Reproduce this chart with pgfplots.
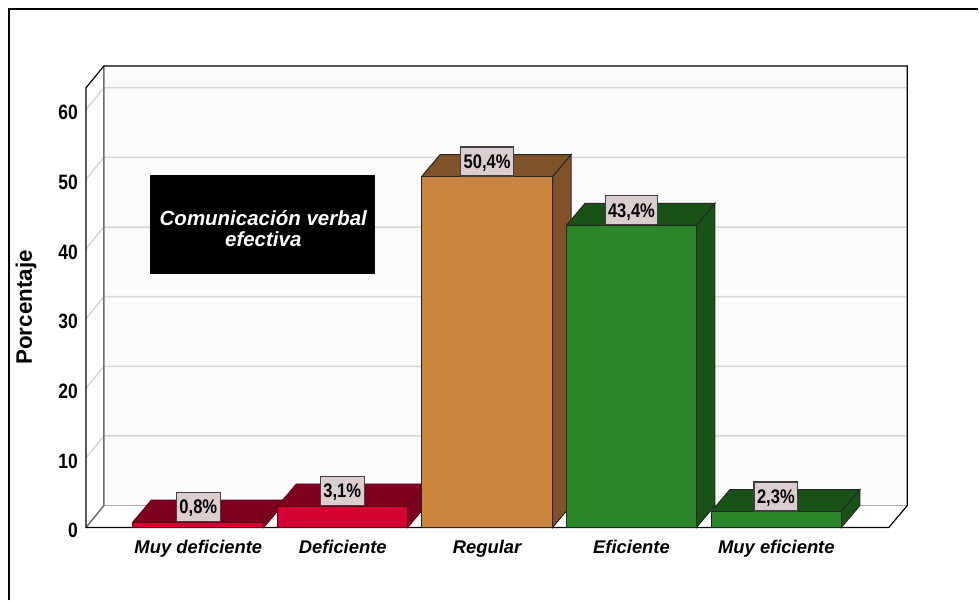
\documentclass[border=0pt]{standalone}
\usepackage{fontspec}
\setmainfont{Liberation Sans}
\newfontfamily\narrowbold[FakeStretch=0.84]{Liberation Sans Bold}
\usepackage{pgfplots}
\pgfplotsset{compat=1.18}
\definecolor{wallc}{HTML}{FBFBFB}
\definecolor{gridc}{HTML}{D6D6D6}
\definecolor{edgegray}{HTML}{6E6E6E}
\definecolor{redF}{HTML}{D60032}
\definecolor{redD}{HTML}{7F001E}
\definecolor{redE}{HTML}{5E0016}
\definecolor{oraF}{HTML}{CB853F}
\definecolor{oraD}{HTML}{7F5228}
\definecolor{greF}{HTML}{2A8629}
\definecolor{greD}{HTML}{195217}
\definecolor{lab}{HTML}{DCCECE}
\tikzset{vlabel/.style={draw=black!75,line width=1.1pt,fill=lab,anchor=south,inner xsep=3pt,inner ysep=0pt,text height=14pt,text depth=0pt,minimum height=29pt,font=\narrowbold\fontsize{19.7}{20}\selectfont}}
\begin{document}
\begin{tikzpicture}
\begin{axis}[
  scale only axis,width=803.5pt,height=440pt,
  xmin=86,xmax=889.5,ymin=0,ymax=63.13,
  clip=false,
  axis line style={draw=none},
  major tick length=0pt,
  xtick={198.5,343,487.5,632,777},
  xticklabels={Muy deficiente,Deficiente,Regular,Eficiente,Muy eficiente},
  xticklabel style={font=\bfseries\itshape\fontsize{18.4}{18}\selectfont,anchor=base,yshift=-26pt},
  ytick={0,10,20,30,40,50,60},
  /pgf/number format/assume math mode=true,
  yticklabel style={font=\narrowbold\fontsize{20.8}{21}\selectfont,anchor=east,xshift=-4.5pt,yshift=-3pt},
  ylabel={\bfseries Porcentaje},
  ylabel style={font=\fontsize{22.4}{22}\selectfont,at={(axis cs:26,31.6)},anchor=center,rotate=0},
]
% page extent
\path (axis cs:0,-10.47) rectangle (axis cs:979,75.75);
% outer frame
\addplot[black,line width=1.6pt] coordinates {(9,-10.47) (9,74.45) (979,74.45)};
% back wall, floor
\addplot[draw=none,fill=wallc] coordinates {(104,3.15) (908,3.15) (908,66.28) (104,66.28)} --cycle;
% grid lines, side wall and back wall
\addplot[gridc,line width=1.5pt] coordinates {(86,10) (104,13.15) (908,13.15)};
\addplot[gridc,line width=1.5pt] coordinates {(86,20) (104,23.15) (908,23.15)};
\addplot[gridc,line width=1.5pt] coordinates {(86,30) (104,33.15) (908,33.15)};
\addplot[gridc,line width=1.5pt] coordinates {(86,40) (104,43.15) (908,43.15)};
\addplot[gridc,line width=1.5pt] coordinates {(86,50) (104,53.15) (908,53.15)};
\addplot[gridc,line width=1.5pt] coordinates {(86,60) (104,63.15) (908,63.15)};
\addplot[gridc!80!black,line width=1.5pt] coordinates {(104,3.15) (908,3.15)};
% edges of the box
\addplot[edgegray,line width=1.5pt] coordinates {(86,0) (104,3.15) (104,66.28)};
\addplot[black,line width=1.2pt] coordinates {(889.5,0) (908,3.15) (908,66.28) (104,66.28) (86,63.13) (86,0) (889.5,0)};
% Muy deficiente 0.8
\addplot[draw=redE,line width=.8pt,fill=redD] coordinates {(264,0) (282.5,3.15) (282.5,3.95) (264,0.8)} --cycle;
\addplot[draw=redE,line width=.8pt,fill=redD] coordinates {(133,0.8) (264,0.8) (282.5,3.95) (151.5,3.95)} --cycle;
\addplot[draw=redE,line width=.8pt,fill=redF] coordinates {(133,0) (264,0) (264,0.8) (133,0.8)} --cycle;
% Deficiente 3.1
\addplot[draw=redE,line width=.8pt,fill=redD] coordinates {(408,0) (426.5,3.15) (426.5,6.25) (408,3.1)} --cycle;
\addplot[draw=redE,line width=.8pt,fill=redD] coordinates {(278,3.1) (408,3.1) (426.5,6.25) (296.5,6.25)} --cycle;
\addplot[draw=redE,line width=.8pt,fill=redF] coordinates {(278,0) (408,0) (408,3.1) (278,3.1)} --cycle;
% Regular 50.4
\addplot[draw=black!85,line width=1pt,fill=oraD] coordinates {(553,0) (571.5,3.15) (571.5,53.55) (553,50.4)} --cycle;
\addplot[draw=black!85,line width=1pt,fill=oraD] coordinates {(422,50.4) (553,50.4) (571.5,53.55) (440.5,53.55)} --cycle;
\addplot[draw=black!85,line width=1pt,fill=oraF] coordinates {(422,0) (553,0) (553,50.4) (422,50.4)} --cycle;
% Eficiente 43.4
\addplot[draw=black!85,line width=1pt,fill=greD] coordinates {(697,0) (715.5,3.15) (715.5,46.55) (697,43.4)} --cycle;
\addplot[draw=black!85,line width=1pt,fill=greD] coordinates {(567,43.4) (697,43.4) (715.5,46.55) (585.5,46.55)} --cycle;
\addplot[draw=black!85,line width=1pt,fill=greF] coordinates {(567,0) (697,0) (697,43.4) (567,43.4)} --cycle;
% Muy eficiente 2.3
\addplot[draw=black!85,line width=1pt,fill=greD] coordinates {(842,0) (860.5,3.15) (860.5,5.45) (842,2.3)} --cycle;
\addplot[draw=black!85,line width=1pt,fill=greD] coordinates {(712,2.3) (842,2.3) (860.5,5.45) (730.5,5.45)} --cycle;
\addplot[draw=black!85,line width=1pt,fill=greF] coordinates {(712,0) (842,0) (842,2.3) (712,2.3)} --cycle;
% value labels
\node[vlabel] at (axis cs:198.5,0.8) {0,8\%};
\node[vlabel] at (axis cs:342.5,3.1) {3,1\%};
\node[vlabel] at (axis cs:487.5,50.4) {50,4\%};
\node[vlabel] at (axis cs:632,43.4) {43,4\%};
\node[vlabel] at (axis cs:776.5,2.3) {2,3\%};
% title box
\node[fill=black,inner sep=0pt,minimum width=225.5pt,minimum height=99pt] at (axis cs:262.7,43.55) {};
\node[text=white,inner sep=0pt,align=center,
  font=\bfseries\itshape\fontsize{20.5}{21}\selectfont] at (axis cs:263.5,42.95) {Comunicación verbal\\efectiva};
\end{axis}
\end{tikzpicture}
\end{document}
